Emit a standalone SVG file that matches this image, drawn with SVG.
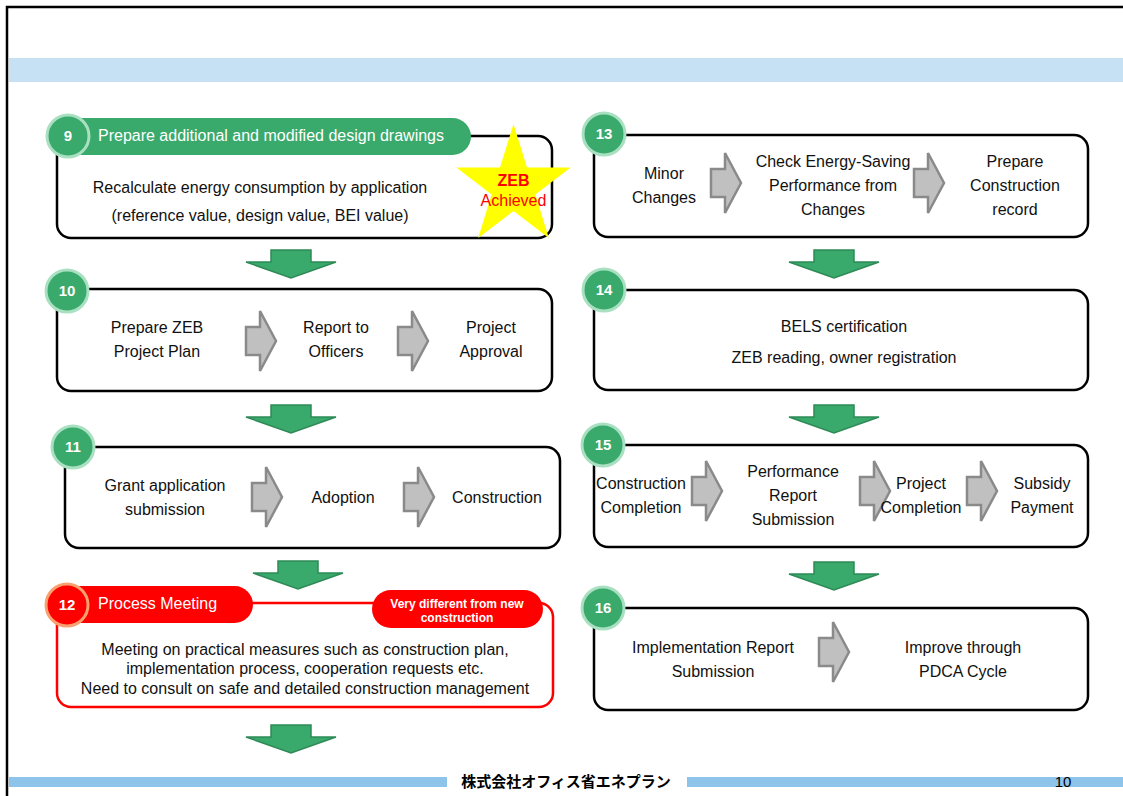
<svg xmlns="http://www.w3.org/2000/svg" width="1123" height="796" viewBox="0 0 1123 796">
<defs>
<style>
.t{font-family:"Liberation Sans",Arial,sans-serif;font-size:16px;fill:#111;text-anchor:middle}
.hw{font-family:"Liberation Sans",Arial,sans-serif;font-size:16px;fill:#fff}
.num{font-family:"Liberation Sans",Arial,sans-serif;font-size:15px;font-weight:bold;fill:#fff;text-anchor:middle}
.box{fill:#fff;stroke:#000;stroke-width:2.5}
.gc{fill:#3aa96c;stroke:#a9e0c2;stroke-width:3}
.rc{fill:#ff0000;stroke:#f8a070;stroke-width:3}
.ga{fill:#3aa96c;stroke:#2e8a56;stroke-width:1.5}
.gr{fill:#c0c0c0;stroke:#8a8a8a;stroke-width:2.5}
</style>
<path id="down" d="M-20,0 H20 V12 H45 L0,28 L-45,12 H-20 Z"/>
<path id="right" d="M0,-14 H14 V-30 L30,0 L14,30 V14 H0 Z"/>
</defs>
<rect width="1123" height="796" fill="#fff"/>
<path d="M7,796 V7 H1123" fill="none" stroke="#000" stroke-width="2.5"/>
<rect x="9" y="58" width="1114" height="24" fill="#c6e0f4"/>

<g id="connectors">
<use href="#down" class="ga" x="291" y="250"/>
<use href="#down" class="ga" x="291" y="405"/>
<use href="#down" class="ga" x="298" y="561"/>
<use href="#down" class="ga" x="291" y="725"/>
<use href="#down" class="ga" x="834" y="250"/>
<use href="#down" class="ga" x="834" y="405"/>
<use href="#down" class="ga" x="834" y="562"/>
</g>

<g id="step9">
<rect class="box" x="57" y="136" width="495" height="102" rx="14"/>
<rect x="48" y="118" width="423" height="37" rx="18.5" fill="#3aa96c"/>
<circle class="gc" cx="68" cy="136" r="21"/>
<text class="num" x="68" y="141">9</text>
<text class="hw" x="98" y="141">Prepare additional and modified design drawings</text>
<text class="t" x="260" y="192.5">Recalculate energy consumption by application</text>
<text class="t" x="260" y="220.5">(reference value, design value, BEI value)</text>
<polygon points="513.5,124 527,167.6 570.6,167.5 535.4,194.4 548.8,238 513.5,211 478.2,238 491.6,194.4 456.4,167.5 500,167.6" fill="#ffff00"/>
<text x="513.5" y="186" font-family="Liberation Sans,Arial,sans-serif" font-size="16" font-weight="bold" fill="#ff0000" text-anchor="middle">ZEB</text>
<text x="513.5" y="206" font-family="Liberation Sans,Arial,sans-serif" font-size="16" fill="#ff0000" text-anchor="middle">Achieved</text>
</g>

<g id="step10">
<rect class="box" x="57" y="289" width="495" height="102" rx="14"/>
<circle class="gc" cx="67" cy="291" r="21"/>
<text class="num" x="67" y="296">10</text>
<text class="t" x="157" y="333">Prepare ZEB</text>
<text class="t" x="157" y="357">Project Plan</text>
<use href="#right" class="gr" x="246" y="341"/>
<text class="t" x="336" y="333">Report to</text>
<text class="t" x="336" y="357">Officers</text>
<use href="#right" class="gr" x="398" y="341"/>
<text class="t" x="491" y="333">Project</text>
<text class="t" x="491" y="357">Approval</text>
</g>

<g id="step11">
<rect class="box" x="65" y="447" width="495" height="101" rx="14"/>
<circle class="gc" cx="73" cy="447" r="21"/>
<text class="num" x="73" y="452">11</text>
<text class="t" x="165" y="491">Grant application</text>
<text class="t" x="165" y="515">submission</text>
<use href="#right" class="gr" x="252" y="497"/>
<text class="t" x="343" y="503">Adoption</text>
<use href="#right" class="gr" x="404" y="497"/>
<text class="t" x="497" y="503">Construction</text>
</g>

<g id="step12">
<rect x="57" y="603" width="496" height="104" rx="14" fill="#fff" stroke="#ff0000" stroke-width="2.5"/>
<rect x="48" y="586" width="205" height="37" rx="18.5" fill="#ff0000"/>
<rect x="372" y="590" width="171" height="38" rx="19" fill="#ff0000"/>
<circle class="rc" cx="67" cy="605" r="21"/>
<text class="num" x="67" y="610">12</text>
<text class="hw" x="98" y="609">Process Meeting</text>
<text x="457" y="608" font-family="Liberation Sans,Arial,sans-serif" font-size="12" font-weight="bold" fill="#fff" text-anchor="middle">Very different from new</text>
<text x="457" y="622" font-family="Liberation Sans,Arial,sans-serif" font-size="12" font-weight="bold" fill="#fff" text-anchor="middle">construction</text>
<text class="t" x="305" y="655">Meeting on practical measures such as construction plan,</text>
<text class="t" x="305" y="674">implementation process, cooperation requests etc.</text>
<text class="t" x="305" y="693.5">Need to consult on safe and detailed construction management</text>
</g>

<g id="step13">
<rect class="box" x="594" y="135" width="494" height="102" rx="14"/>
<circle class="gc" cx="604" cy="134" r="21"/>
<text class="num" x="604" y="139">13</text>
<text class="t" x="664" y="179">Minor</text>
<text class="t" x="664" y="203">Changes</text>
<use href="#right" class="gr" x="711" y="183"/>
<text class="t" x="833" y="167">Check Energy-Saving</text>
<text class="t" x="833" y="191">Performance from</text>
<text class="t" x="833" y="215">Changes</text>
<use href="#right" class="gr" x="914" y="183"/>
<text class="t" x="1015" y="167">Prepare</text>
<text class="t" x="1015" y="191">Construction</text>
<text class="t" x="1015" y="215">record</text>
</g>

<g id="step14">
<rect class="box" x="594" y="290" width="494" height="100" rx="14"/>
<circle class="gc" cx="604" cy="290" r="21"/>
<text class="num" x="604" y="295">14</text>
<text class="t" x="844" y="332">BELS certification</text>
<text class="t" x="844" y="363">ZEB reading, owner registration</text>
</g>

<g id="step15">
<rect class="box" x="594" y="445" width="494" height="102" rx="14"/>
<circle class="gc" cx="603" cy="445" r="21"/>
<text class="num" x="603" y="450">15</text>
<text class="t" x="641" y="489">Construction</text>
<text class="t" x="641" y="513">Completion</text>
<use href="#right" class="gr" x="692" y="491"/>
<text class="t" x="793" y="477">Performance</text>
<text class="t" x="793" y="501">Report</text>
<text class="t" x="793" y="525">Submission</text>
<use href="#right" class="gr" x="860" y="491"/>
<text class="t" x="921" y="489">Project</text>
<text class="t" x="921" y="513">Completion</text>
<use href="#right" class="gr" x="967" y="491"/>
<text class="t" x="1042" y="489">Subsidy</text>
<text class="t" x="1042" y="513">Payment</text>
</g>

<g id="step16">
<rect class="box" x="594" y="608" width="494" height="102" rx="14"/>
<circle class="gc" cx="603" cy="608" r="21"/>
<text class="num" x="603" y="613">16</text>
<text class="t" x="713" y="653">Implementation Report</text>
<text class="t" x="713" y="677">Submission</text>
<use href="#right" class="gr" x="819" y="652"/>
<text class="t" x="963" y="653">Improve through</text>
<text class="t" x="963" y="677">PDCA Cycle</text>
</g>

<g id="footer">
<rect x="9" y="777" width="438" height="10" fill="#8ec3ea"/>
<rect x="687" y="777" width="436" height="10" fill="#8ec3ea"/>
<text x="566" y="787" font-family="'Liberation Sans','Noto Sans CJK JP',sans-serif" font-size="15" font-weight="bold" fill="#000" text-anchor="middle">株式会社オフィス省エネプラン</text>
<text x="1063" y="787" font-family="'Liberation Sans',Arial,sans-serif" font-size="15" fill="#000" text-anchor="middle">10</text>
</g>
</svg>
